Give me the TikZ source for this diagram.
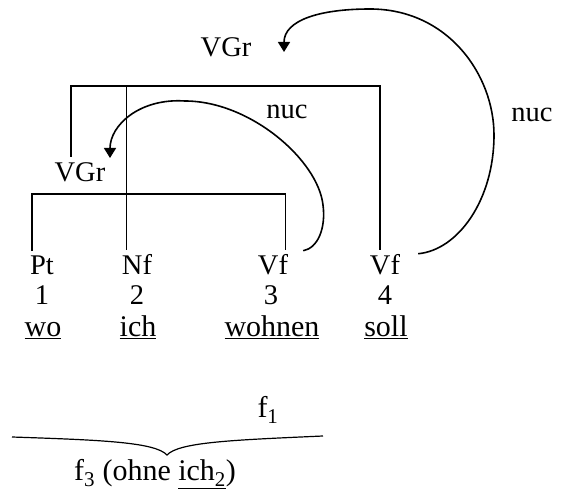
\documentclass[tikz,border=0pt]{standalone}
\usepackage{fontspec}
\setmainfont{Liberation Serif}
\usetikzlibrary{arrows.meta,positioning}

\begin{document}
\begin{tikzpicture}[x=1pt,y=-1pt,
  lbl/.style={inner sep=0pt,anchor=base,font=\fontsize{28.5}{32}\selectfont},
  wrd/.style={inner sep=0pt,anchor=base,font=\fontsize{30}{34}\selectfont},
  brk/.style={line width=1.2pt},
  nucarc/.style={line width=1.6pt,-{Triangle[length=10pt,width=12pt]}}]
\useasboundingbox (0,0) rectangle (563,494);

% word classes, positions, words
\node[lbl] (pt) at (42,275) {Pt};
\node[lbl] (nf) at (137,275) {Nf};
\node[lbl] (vf3) at (273,275) {Vf};
\node[lbl] (vf4) at (385,275) {Vf};
\node[lbl] (n1) at (42,305) {1};
\node[lbl] (n2) at (137,305) {2};
\node[lbl] (n3) at (271,305) {3};
\node[lbl] (n4) at (385,305) {4};
\node[wrd] (wo) at (43,337) {\underline{wo}};
\node[wrd] (ich) at (138,337) {\underline{ich}};
\node[wrd] (wohnen) at (272,337) {\underline{wohnen}};
\node[wrd] (soll) at (386,337) {\underline{soll}};

\node[lbl] (vgrtop) at (226,57) {VGr};
\node[lbl] (vgrlow) at (80,182) {VGr};
\node[lbl] (nucin) at (287,119) {nuc};
\node[lbl] (nucout) at (532,122) {nuc};

\coordinate (lowbar) at (0,194);
\coordinate (upbar) at (0,86);
\coordinate (tipin) at (110,158);
\coordinate (tipout) at (284,52);

% brackets
\draw[brk] ([xshift=2pt,yshift=5pt]pt.north west) -- ([xshift=2pt]pt.north west |- lowbar)
  -- ([xshift=-3pt]vf3.north east |- lowbar) -- ([xshift=-3pt,yshift=5pt]vf3.north east);
\draw[brk] ([xshift=-9pt,yshift=6pt]vgrlow.north) -- ([xshift=-9pt]vgrlow.north |- upbar)
  -- ([xshift=-5pt]vf4.north |- upbar) -- ([xshift=-5pt,yshift=5pt]vf4.north);
\draw[brk] ([xshift=5pt]nf.north west |- upbar) -- ([xshift=5pt,yshift=5pt]nf.north west);

% nuc arcs
\draw[nucarc] ([xshift=15pt,yshift=4pt]vf3.north east) .. controls (318,248) and (326,228) .. (323,205)
  .. controls (318,160) and (250,101) .. (185,101)
  .. controls (140,98) and (110,125) .. (tipin);
\draw[nucarc] ([xshift=18pt,yshift=1pt]vf4.north east) .. controls (458,250) and (494,200) .. (494,135)
  .. controls (494,75) and (448,9) .. (370,9)
  .. controls (320,9) and (284,20) .. (tipout);

% f1 / f3
\node[wrd] (f1) at (268,418) {f\textsubscript{1}};
\draw[brk] (12,437) .. controls (100,440) and (155,442) .. (167,455)
  .. controls (179,442) and (234,440) .. (323,436);
\node[wrd] (f3) at (155,481) {f\textsubscript{3} (ohne \underline{ich\textsubscript{2}})};
\end{tikzpicture}
\end{document}
